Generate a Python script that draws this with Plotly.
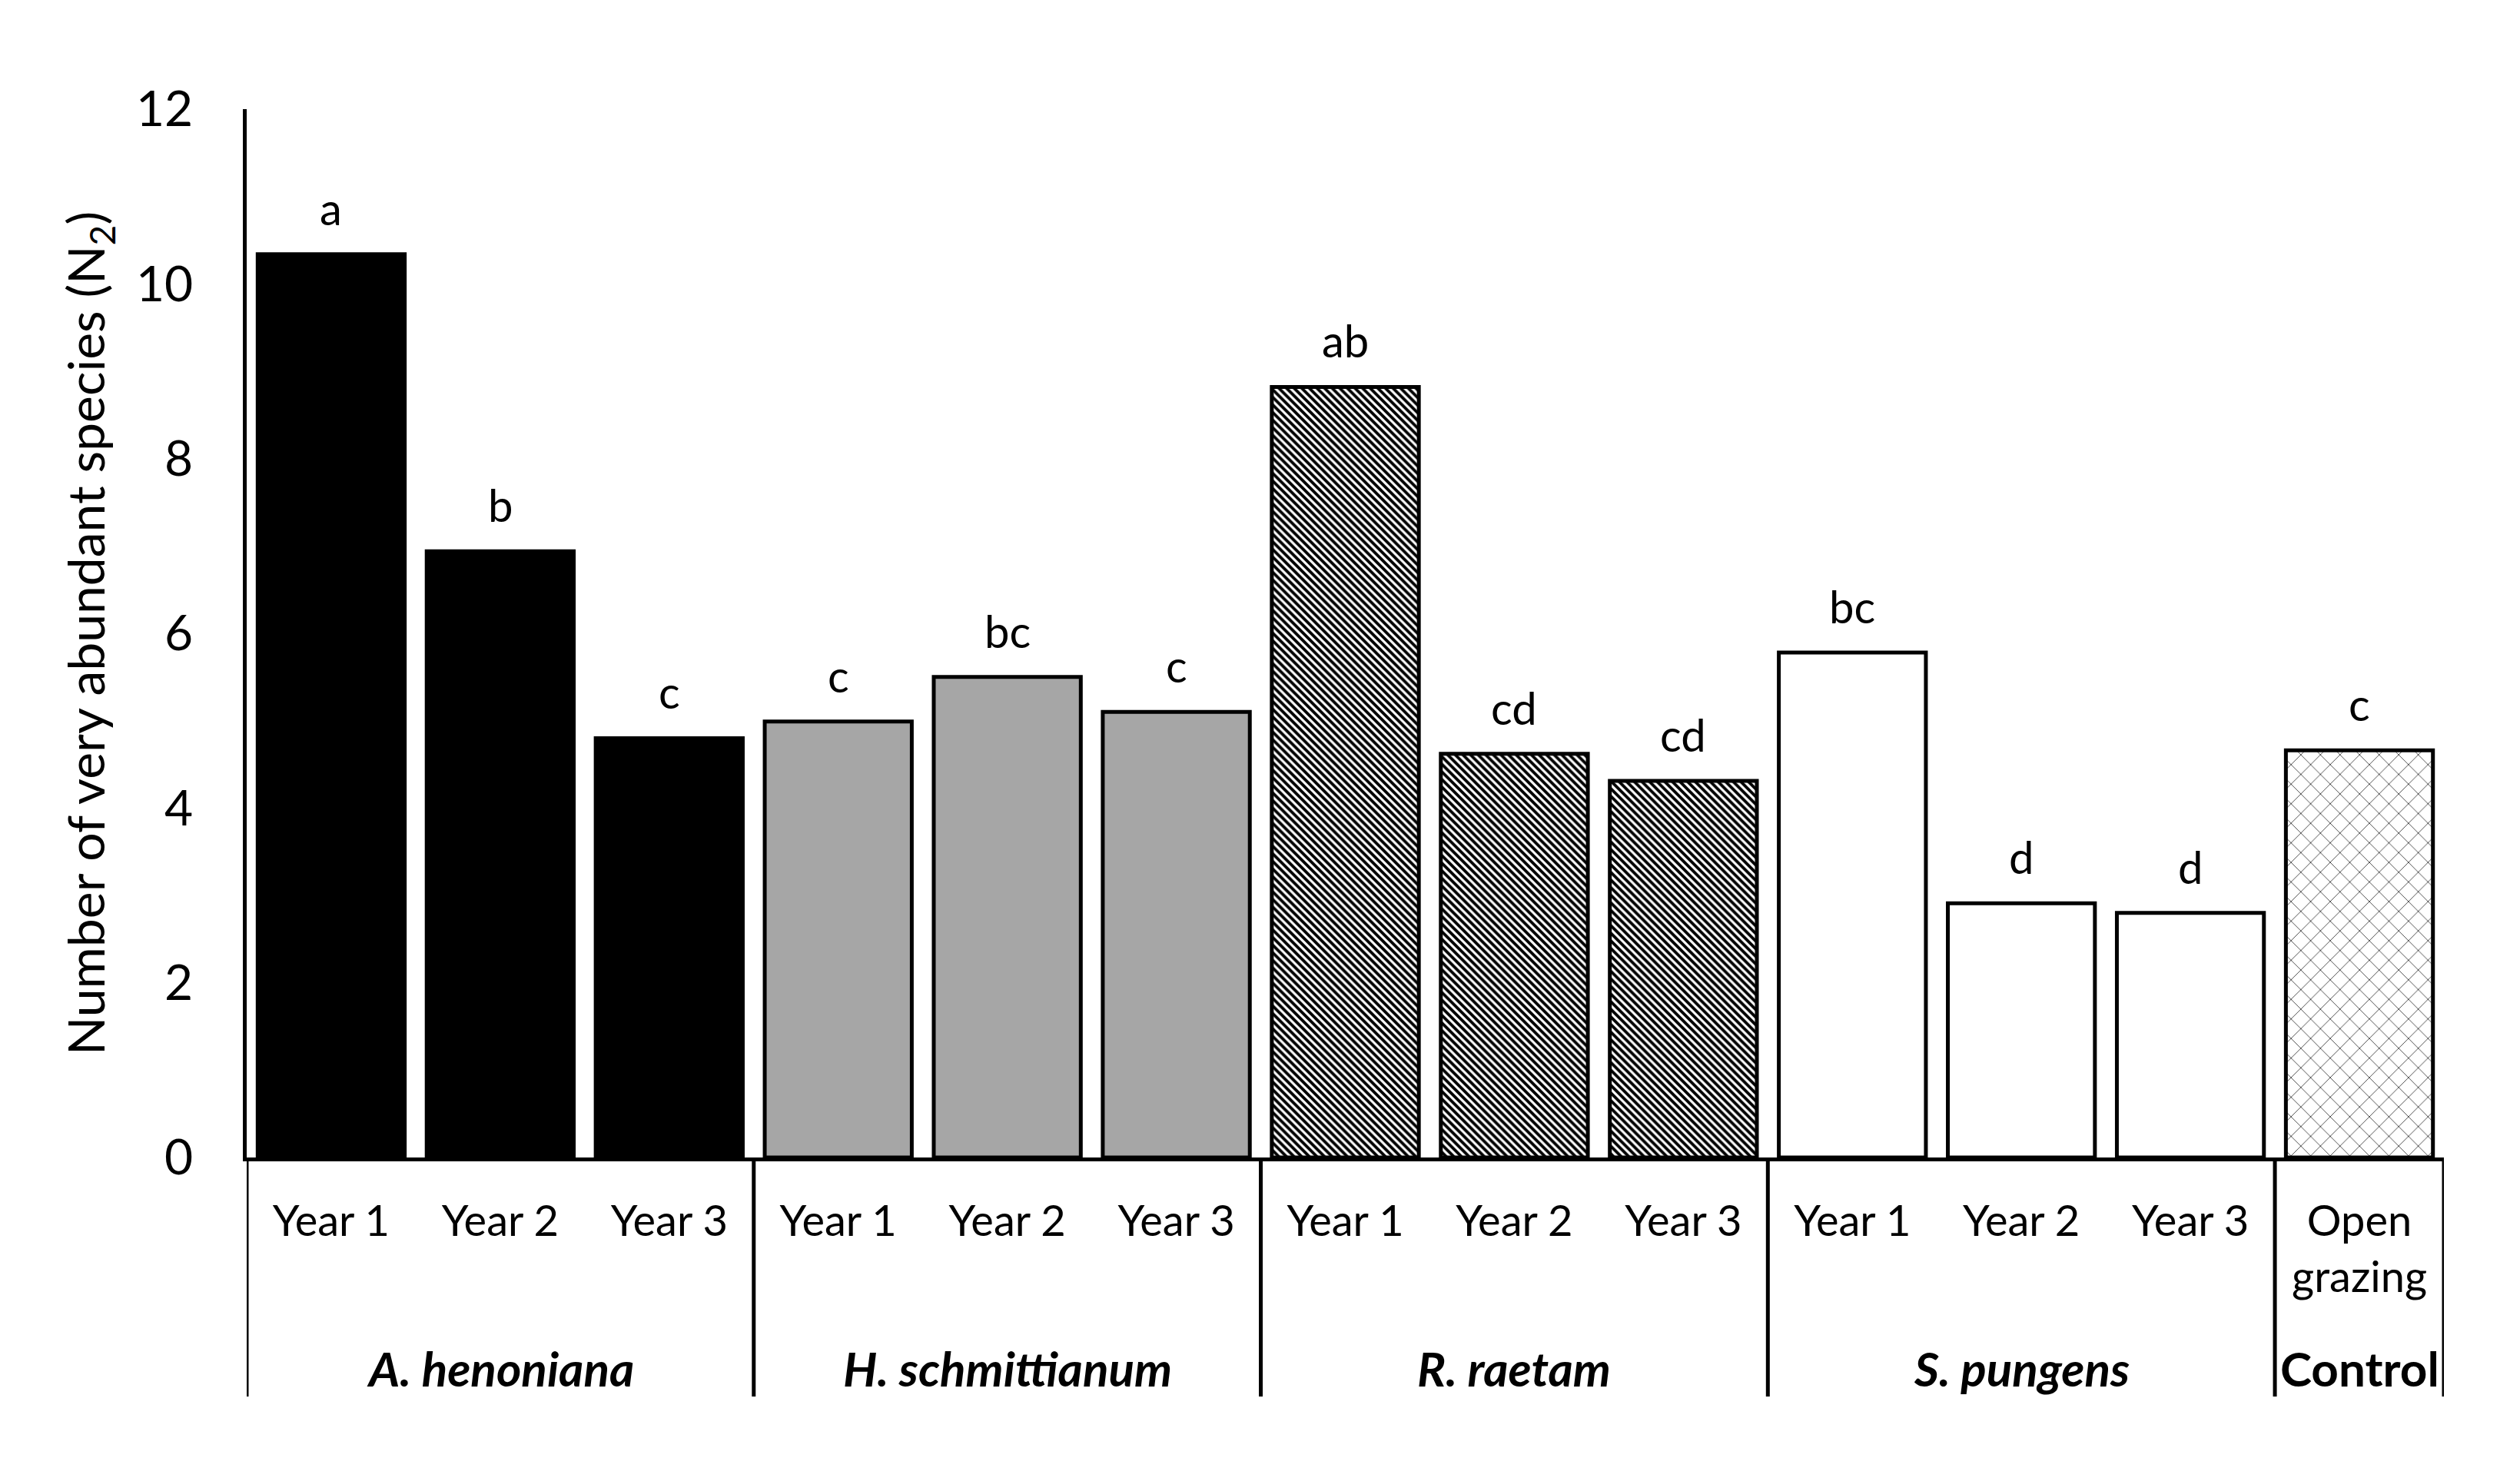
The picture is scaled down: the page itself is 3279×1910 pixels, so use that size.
import plotly.graph_objects as go

groups = ["A. henoniana", "H. schmittianum", "R. raetam", "S. pungens", "Control"]
group_sizes = [3, 3, 3, 3, 1]
bar_labels = ["Year 1", "Year 2", "Year 3",
              "Year 1", "Year 2", "Year 3",
              "Year 1", "Year 2", "Year 3",
              "Year 1", "Year 2", "Year 3",
              "Open<br>grazing"]
values = [10.34, 6.94, 4.80,
          4.99, 5.50, 5.10,
          8.82, 4.62, 4.31,
          5.78, 2.91, 2.80,
          4.66]
letters = ["a", "b", "c",
           "c", "bc", "c",
           "ab", "cd", "cd",
           "bc", "d", "d",
           "c"]
y_ticks = [0, 2, 4, 6, 8, 10, 12]

FONT = "Lato"

group_styles = [
    dict(color="#000000", pattern=dict(shape="")),
    dict(color="#a6a6a6", pattern=dict(shape="")),
    dict(color="#ffffff", pattern=dict(shape="\\", fgcolor="#000000", bgcolor="#ffffff",
                                       size=7, solidity=0.55, fillmode="replace")),
    dict(color="#ffffff", pattern=dict(shape="")),
    dict(color="#ffffff", pattern=dict(shape="x", fgcolor="#444444", bgcolor="#ffffff",
                                       size=18, solidity=0.1, fillmode="replace")),
]

fig = go.Figure()
pos = 0
for g, n, st in zip(groups, group_sizes, group_styles):
    xs = list(range(pos, pos + n))
    fig.add_trace(go.Bar(
        x=xs, y=values[pos:pos + n],
        marker=dict(color=st["color"], pattern=st["pattern"],
                    line=dict(color="#000000", width=5)),
        showlegend=False, hoverinfo="skip",
    ))
    pos += n

# significance letters
for i, (v, t) in enumerate(zip(values, letters)):
    fig.add_annotation(x=i, y=v, text=t, showarrow=False, yanchor="bottom",
                       yshift=24, font=dict(family=FONT, size=58, color="#000000"))

# group separators and group labels
start = 0
bounds = [-0.5]
for g, n in zip(groups, group_sizes):
    bounds.append(start + n - 0.5)
    center = start + (n - 1) / 2
    txt = f"<b>{g}</b>" if g == "Control" else f"<b><i>{g}</i></b>"
    fig.add_annotation(x=center, y=-0.201, xref="x", yref="paper", text=txt,
                       showarrow=False, yanchor="middle",
                       font=dict(family=FONT, size=62, color="#000000"))
    start += n
for b in bounds:
    fig.add_shape(type="line", x0=b, x1=b, y0=0, y1=-0.228, xref="x", yref="paper",
                  line=dict(color="#000000", width=5))

fig.update_layout(
    width=3279, height=1910,
    margin=dict(l=313, r=107, t=134, b=412),
    plot_bgcolor="#ffffff", paper_bgcolor="#ffffff",
    bargap=0.13,
    font=dict(family=FONT, color="#000000"),
)
fig.update_xaxes(
    range=[-0.5, len(values) - 0.5],
    tickvals=list(range(len(values))), ticktext=bar_labels,
    tickfont=dict(family=FONT, size=56, color="#000000"),
    showline=True, linecolor="#000000", linewidth=5,
    ticks="", ticklabelstandoff=30, showgrid=False, zeroline=False,
)
fig.update_yaxes(
    range=[0, 12], tickvals=y_ticks,
    tickfont=dict(family=FONT, size=64, color="#000000"),
    showline=True, linecolor="#000000", linewidth=5,
    ticks="", ticklabelstandoff=52, showgrid=False, zeroline=False,
    title=dict(text="Number of very abundant species (N<sub>2</sub>)",
               font=dict(family=FONT, size=66, color="#000000"), standoff=20),
)

fig.write_html("out.html")
